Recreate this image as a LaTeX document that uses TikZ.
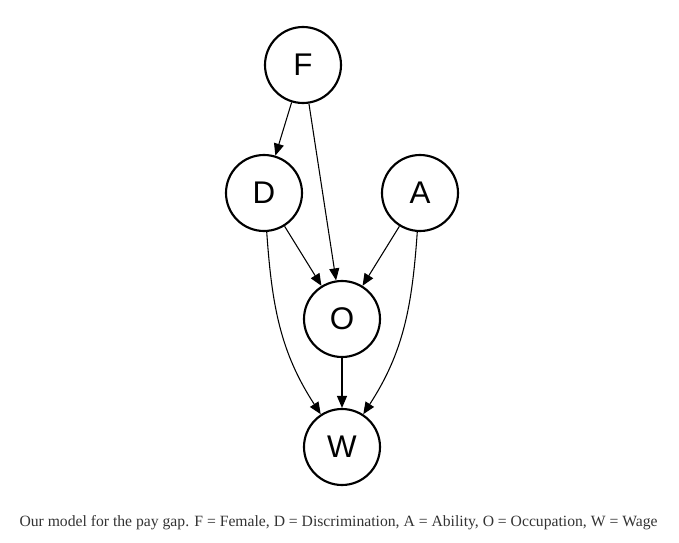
\documentclass[tikz,border=0pt]{standalone}
\usepackage{fontspec}
\setmainfont{Liberation Serif}
\newfontfamily\nodefont{Liberation Sans}
\usetikzlibrary{arrows.meta}
\definecolor{captiongray}{HTML}{333333}
\begin{document}
\begin{tikzpicture}[x=0.75pt,y=-0.75pt,
  var/.style={circle,draw,line width=1.6pt,minimum size=57pt,inner sep=0pt,font=\nodefont\fontsize{23.5}{23.5}\selectfont},
  edge/.style={line width=0.8pt,-{Triangle[length=9pt,width=7.5pt]}},
  caption/.style={font=\fontsize{11.75}{14}\selectfont,text=captiongray,inner sep=0pt}]
\useasboundingbox (0,0) rectangle (679,543);
\node[var] (F) at (303,65) {F};
\node[var] (D) at (264,193) {D};
\node[var] (A) at (420,193) {A};
\node[var] (O) at (342,319) {O};
\node[var] (W) at (342,447) {W};
\draw[edge] (F) -- (D);
\draw[edge] (F) -- (O);
\draw[edge] (D) -- (O);
\draw[edge] (A) -- (O);
\draw[edge] (O) -- (W);
\draw[edge] (D) to[out=-86,in=123] (W);
\draw[edge] (A) to[out=-94,in=57] (W);
\node[caption] (cap) at (338.5,523) {Our model for the pay gap. F = Female, D = Discrimination, A = Ability, O = Occupation, W = Wage};
\end{tikzpicture}
\end{document}
